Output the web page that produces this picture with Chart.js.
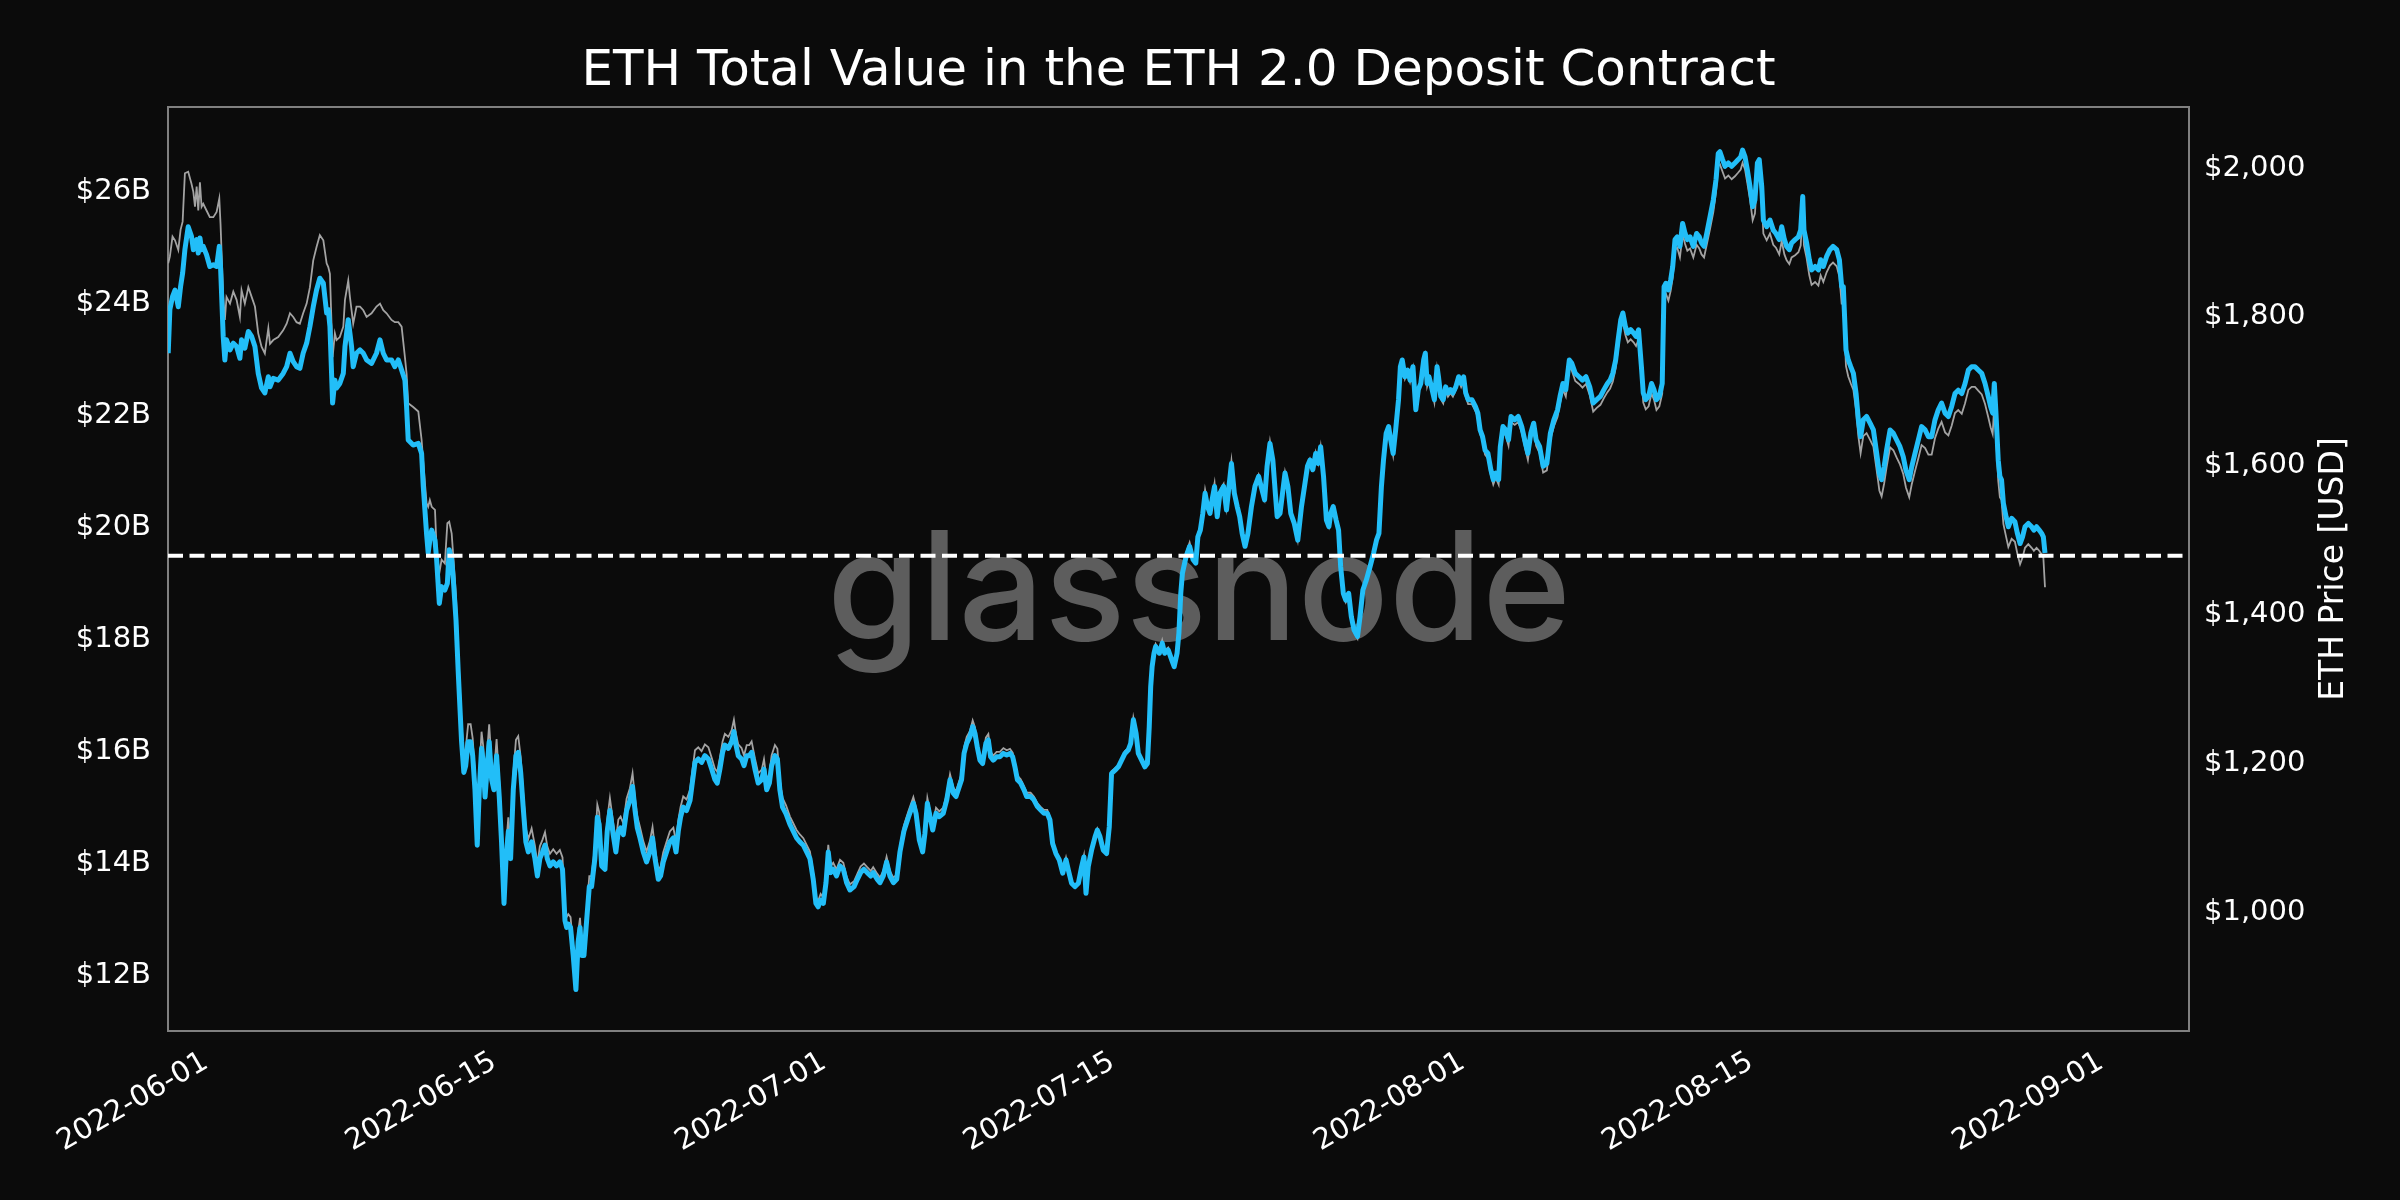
<!DOCTYPE html>
<html>
<head>
<meta charset="utf-8">
<script src="https://cdn.jsdelivr.net/npm/chart.js@4.4.0/dist/chart.umd.min.js"></script>
<style>
  html, body { margin: 0; padding: 0; background: #0b0b0b; }
</style>
</head>
<body>
<canvas id="chart" width="2400" height="1200"></canvas>
<script>
// days since 2022-06-01 (fractional)
const days = [
  -1.83,-1.75,-1.62,-1.50,-1.34,-1.23,-1.13,-1.02,-0.86,-0.70,
  -0.61,-0.53,-0.45,-0.37,-0.29,-0.21,-0.13,0.03,0.19,0.36,
  0.52,0.65,0.71,0.84,0.92,1.00,1.17,1.33,1.49,1.65,
  1.73,1.89,2.06,2.22,2.38,2.54,2.70,2.86,3.03,3.11,
  3.27,3.51,3.75,3.92,4.08,4.24,4.40,4.56,4.72,4.89,
  5.05,5.21,5.37,5.53,5.70,5.86,5.94,6.02,6.15,6.26,
  6.34,6.50,6.67,6.75,6.91,6.99,7.07,7.15,7.31,7.48,
  7.64,7.80,8.04,8.28,8.45,8.61,8.77,9.01,9.17,9.34,
  9.50,9.66,9.74,9.82,10.06,10.31,10.47,10.55,10.71,10.79,
  10.87,10.96,11.12,11.20,11.33,11.44,11.60,11.72,11.81,11.93,
  12.01,12.14,12.25,12.41,12.52,12.61,12.73,12.85,12.95,13.06,
  13.17,13.27,13.38,13.46,13.55,13.66,13.75,13.87,13.98,14.11,
  14.24,14.35,14.47,14.56,14.68,14.79,14.92,15.05,15.16,15.28,
  15.40,15.53,15.65,15.81,15.97,16.09,16.21,16.34,16.46,16.57,
  16.70,16.86,17.02,17.18,17.31,17.43,17.51,17.59,17.70,17.83,
  17.96,18.07,18.16,18.24,18.35,18.48,18.61,18.72,18.88,19.00,
  19.09,19.21,19.37,19.48,19.61,19.77,19.90,20.02,20.13,20.26,
  20.42,20.58,20.71,20.83,20.94,21.07,21.23,21.39,21.55,21.68,
  21.80,21.96,22.07,22.20,22.36,22.52,22.69,22.82,22.93,23.04,
  23.17,23.33,23.50,23.63,23.74,23.90,24.06,24.22,24.39,24.55,
  24.71,24.82,24.95,25.08,25.19,25.36,25.52,25.63,25.73,25.84,
  26.00,26.12,26.25,26.38,26.49,26.65,26.81,26.98,27.09,27.22,
  27.35,27.46,27.62,27.74,27.86,27.99,28.16,28.35,28.51,28.67,
  28.83,29.00,29.16,29.32,29.48,29.61,29.72,29.84,29.97,30.10,
  30.21,30.32,30.45,30.61,30.78,30.94,31.10,31.26,31.46,31.62,
  31.78,31.94,32.10,32.27,32.39,32.59,32.72,32.88,33.04,33.20,
  33.37,33.53,33.69,33.88,34.10,34.34,34.47,34.63,34.79,34.90,
  35.02,35.15,35.28,35.44,35.60,35.79,35.96,36.12,36.28,36.41,
  36.57,36.68,36.80,36.93,37.09,37.22,37.33,37.44,37.57,37.70,
  37.86,37.98,38.09,38.22,38.38,38.54,38.71,38.87,39.03,39.16,
  39.27,39.39,39.55,39.71,39.84,40.03,40.19,40.36,40.52,40.68,
  40.84,40.97,41.10,41.26,41.42,41.59,41.75,41.86,42.02,42.18,
  42.35,42.51,42.62,42.72,42.83,42.99,43.16,43.27,43.40,43.56,
  43.72,43.85,43.96,44.13,44.29,44.45,44.61,44.77,44.89,45.02,
  45.15,45.26,45.42,45.58,45.70,45.79,45.86,45.93,46.02,46.10,
  46.28,46.42,46.54,46.71,46.88,47.00,47.14,47.23,47.32,47.40,
  47.58,47.75,47.92,48.05,48.15,48.27,48.39,48.50,48.62,48.74,
  48.84,48.96,49.09,49.22,49.40,49.54,49.66,49.78,49.92,50.06,
  50.18,50.30,50.44,50.58,50.75,50.92,51.10,51.22,51.39,51.51,
  51.65,51.79,51.91,52.00,52.14,52.26,52.38,52.52,52.66,52.83,
  53.00,53.18,53.35,53.47,53.59,53.73,53.87,53.99,54.11,54.25,
  54.39,54.51,54.60,54.72,54.86,54.98,55.08,55.21,55.33,55.47,
  55.60,55.73,55.90,56.02,56.16,56.33,56.51,56.68,56.82,56.94,
  57.06,57.16,57.29,57.41,57.51,57.63,57.75,57.89,57.98,58.07,
  58.20,58.33,58.45,58.59,58.73,58.85,58.97,59.11,59.19,59.28,
  59.37,59.49,59.63,59.76,59.83,59.94,60.06,60.18,60.29,60.41,
  60.53,60.67,60.81,60.93,61.05,61.15,61.27,61.45,61.62,61.74,
  61.85,61.97,62.09,62.23,62.37,62.49,62.61,62.75,62.83,62.96,
  63.09,63.23,63.35,63.53,63.70,63.87,64.05,64.17,64.31,64.45,
  64.57,64.74,64.91,65.09,65.26,65.43,65.61,65.73,65.87,66.01,
  66.18,66.30,66.47,66.65,66.82,66.99,67.17,67.34,67.51,67.69,
  67.86,68.03,68.16,68.29,68.43,68.55,68.68,68.78,68.90,69.02,
  69.16,69.30,69.42,69.54,69.68,69.77,69.89,70.03,70.17,70.29,
  70.41,70.55,70.69,70.78,70.87,70.99,71.10,71.20,71.31,71.42,
  71.55,71.68,71.80,71.91,72.04,72.20,72.36,72.49,72.60,72.72,
  72.85,73.01,73.17,73.30,73.41,73.49,73.62,73.74,73.90,74.06,
  74.22,74.38,74.50,74.59,74.71,74.82,74.95,75.08,75.19,75.31,
  75.40,75.52,75.60,75.76,75.92,76.08,76.21,76.37,76.49,76.62,
  76.73,76.86,76.97,77.14,77.30,77.41,77.51,77.57,77.70,77.83,
  77.94,78.11,78.27,78.38,78.51,78.67,78.83,78.98,79.16,79.29,
  79.40,79.48,79.61,79.72,79.84,79.97,80.10,80.21,80.32,80.45,
  80.61,80.78,80.94,81.10,81.23,81.34,81.46,81.58,81.75,81.91,
  82.07,82.23,82.39,82.52,82.68,82.80,82.96,83.12,83.28,83.45,
  83.61,83.77,83.93,84.09,84.25,84.42,84.58,84.74,84.90,85.06,
  85.23,85.39,85.55,85.71,85.87,86.03,86.20,86.36,86.52,86.63,
  86.73,86.81,86.89,87.00,87.08,87.16,87.25,87.38,87.49,87.65,
  87.81,87.93,88.06,88.18,88.30,88.46,88.62,88.73,88.86,88.99,
  89.11,89.19,89.27
];

// total value in the deposit contract, billions USD
const tvl = [
  23.11,23.89,24.12,24.24,23.94,24.30,24.54,24.96,25.37,25.20,
  24.96,25.05,25.14,24.90,25.17,24.96,25.02,24.87,24.66,24.69,
  24.66,25.02,24.66,23.41,22.99,23.35,23.17,23.29,23.23,23.02,
  23.35,23.20,23.50,23.41,23.23,22.75,22.49,22.40,22.69,22.51,
  22.66,22.63,22.75,22.87,23.11,22.96,22.87,22.84,23.11,23.29,
  23.59,23.94,24.24,24.45,24.36,23.83,23.89,23.59,22.22,22.63,
  22.49,22.57,22.75,23.23,23.71,23.47,23.23,22.87,23.11,23.17,
  23.11,22.99,22.93,23.11,23.35,23.11,22.99,22.99,22.87,22.99,
  22.81,22.63,22.16,21.56,21.47,21.50,21.32,20.73,19.89,19.54,
  19.77,19.95,19.77,19.42,18.64,18.94,18.88,19.00,19.60,19.42,
  19.06,18.34,17.40,16.17,15.62,15.74,16.17,16.17,15.92,15.31,
  14.32,15.31,16.05,15.80,15.18,15.74,16.17,15.49,15.31,15.92,
  15.18,14.38,13.28,14.02,14.57,14.08,15.31,15.92,15.98,15.62,
  15.00,14.38,14.20,14.38,14.08,13.77,14.08,14.20,14.32,14.08,
  13.95,14.02,13.95,14.02,13.89,12.97,12.85,12.91,12.85,12.35,
  11.74,12.60,12.85,12.35,12.35,12.97,13.58,13.58,14.08,14.82,
  14.69,13.95,13.89,14.57,14.94,14.51,14.20,14.57,14.63,14.51,
  14.94,15.12,15.37,14.94,14.63,14.45,14.20,14.02,14.20,14.45,
  14.08,13.71,13.77,14.02,14.20,14.38,14.45,14.20,14.57,14.82,
  15.00,14.94,15.12,15.49,15.80,15.86,15.80,15.92,15.86,15.68,
  15.49,15.43,15.68,15.98,16.11,16.05,16.17,16.35,16.11,15.92,
  15.86,15.74,15.92,15.92,15.98,15.68,15.43,15.49,15.68,15.31,
  15.43,15.74,15.92,15.86,15.31,15.00,14.88,14.69,14.57,14.45,
  14.38,14.32,14.20,14.08,13.71,13.28,13.22,13.34,13.28,13.65,
  14.20,13.83,13.89,13.77,13.95,13.89,13.65,13.52,13.58,13.71,
  13.83,13.89,13.83,13.77,13.83,13.71,13.65,13.77,14.02,13.77,
  13.65,13.71,14.20,14.57,14.82,15.07,14.89,14.41,14.20,14.53,
  15.07,14.83,14.59,14.89,14.83,14.89,15.13,15.49,15.25,15.19,
  15.37,15.49,15.96,16.14,16.26,16.44,16.32,16.08,15.84,15.78,
  16.14,16.20,15.90,15.84,15.90,15.90,15.96,15.93,15.96,15.90,
  15.72,15.49,15.43,15.31,15.19,15.19,15.13,15.01,14.95,14.89,
  14.89,14.77,14.35,14.17,14.06,13.82,14.06,13.88,13.64,13.58,
  13.64,13.94,14.11,13.46,13.94,14.23,14.47,14.59,14.47,14.23,
  14.17,14.65,15.60,15.66,15.72,15.84,15.96,16.02,16.14,16.56,
  16.32,15.96,15.84,15.72,15.78,16.44,17.15,17.51,17.75,17.87,
  17.75,17.93,17.75,17.81,17.63,17.51,17.75,18.11,18.82,19.18,
  19.48,19.66,19.42,19.36,19.83,19.95,20.25,20.61,20.37,20.25,
  20.49,20.73,20.19,20.61,20.73,20.31,20.73,21.14,20.61,20.37,
  20.19,19.89,19.66,19.89,20.37,20.73,20.91,20.73,20.49,21.09,
  21.50,21.20,20.61,20.19,20.25,20.61,20.97,20.73,20.25,20.07,
  19.77,20.37,20.79,21.09,21.20,21.03,21.32,21.14,21.44,20.91,
  20.13,20.01,20.25,20.37,20.13,19.95,19.30,18.82,18.70,18.82,
  18.40,18.17,18.05,18.40,18.88,19.06,19.30,19.54,19.77,19.89,
  20.73,21.20,21.68,21.80,21.56,21.32,21.74,22.28,22.87,22.99,
  22.69,22.81,22.63,22.87,22.10,22.46,22.57,22.99,23.11,22.57,
  22.69,22.51,22.28,22.87,22.69,22.34,22.28,22.51,22.40,22.46,
  22.40,22.51,22.69,22.57,22.69,22.40,22.28,22.28,22.16,22.04,
  21.74,21.62,21.38,21.32,21.03,20.85,20.97,20.85,21.44,21.80,
  21.74,21.56,21.98,21.92,21.98,21.80,21.50,21.32,21.68,21.86,
  21.56,21.44,21.09,21.14,21.68,21.92,22.10,22.34,22.57,22.46,
  22.99,22.93,22.75,22.69,22.63,22.69,22.51,22.22,22.28,22.34,
  22.46,22.57,22.63,22.75,22.99,23.35,23.71,23.83,23.59,23.47,
  23.53,23.47,23.41,23.53,22.87,22.40,22.28,22.34,22.57,22.46,
  22.28,22.34,22.57,24.30,24.36,24.24,24.42,24.66,25.14,25.19,
  25.02,25.43,25.25,25.14,25.19,25.02,25.25,25.19,25.08,25.02,
  25.25,25.55,25.85,26.21,26.68,26.71,26.57,26.45,26.51,26.45,
  26.51,26.57,26.62,26.74,26.62,26.39,26.09,25.73,25.85,26.51,
  26.57,26.09,25.49,25.37,25.49,25.31,25.25,25.14,25.37,25.14,
  25.02,24.96,25.08,25.14,25.19,25.31,25.91,25.31,25.08,24.78,
  24.60,24.66,24.60,24.78,24.66,24.84,24.96,25.02,24.96,24.78,
  24.30,24.30,23.17,22.99,22.87,22.75,22.39,21.92,21.62,21.92,
  21.98,21.86,21.74,21.32,20.96,20.85,21.08,21.38,21.74,21.68,
  21.56,21.44,21.26,21.02,20.85,21.08,21.32,21.56,21.80,21.74,
  21.62,21.62,21.92,22.10,22.22,22.04,21.98,22.16,22.39,22.45,
  22.39,22.57,22.81,22.87,22.87,22.81,22.75,22.57,22.33,22.16,
  22.04,22.57,22.04,21.20,20.91,20.85,20.43,20.19,20.01,20.16,
  20.10,19.89,19.71,19.83,20.01,20.07,20.01,19.95,20.01,19.95,
  19.89,19.83,19.54
];

// ETH price, USD
const price = [
  1872,1881,1908,1903,1890,1917,1928,1993,1995,1979,
  1968,1948,1975,1943,1981,1948,1952,1943,1934,1934,
  1941,1959,1925,1827,1796,1827,1818,1834,1823,1800,
  1836,1818,1840,1827,1814,1778,1760,1751,1785,1764,
  1769,1773,1782,1791,1805,1800,1793,1791,1805,1818,
  1840,1876,1894,1910,1903,1872,1867,1858,1746,1778,
  1769,1773,1787,1823,1849,1827,1809,1791,1814,1814,
  1809,1800,1805,1814,1818,1809,1805,1796,1793,1793,
  1787,1746,1724,1684,1679,1673,1635,1605,1550,1545,
  1554,1545,1541,1487,1456,1474,1469,1523,1525,1509,
  1478,1424,1349,1253,1211,1220,1253,1253,1234,1186,
  1109,1186,1243,1224,1176,1219,1253,1200,1186,1233,
  1176,1114,1028,1086,1128,1090,1186,1232,1237,1209,
  1161,1113,1099,1113,1090,1065,1089,1098,1108,1089,
  1079,1085,1079,1084,1074,1003,994,998,994,955,
  908,974,993,954,954,1002,1049,1049,1088,1145,
  1135,1078,1073,1125,1154,1121,1097,1125,1129,1120,
  1153,1167,1187,1153,1129,1115,1096,1082,1096,1115,
  1086,1058,1062,1081,1095,1109,1114,1095,1124,1142,
  1156,1152,1165,1194,1218,1222,1217,1226,1222,1208,
  1193,1189,1208,1230,1240,1236,1245,1259,1240,1226,
  1221,1211,1225,1225,1230,1207,1187,1192,1206,1178,
  1187,1211,1225,1220,1178,1154,1144,1129,1120,1111,
  1105,1100,1091,1082,1053,1020,1016,1025,1020,1048,
  1091,1062,1067,1058,1071,1067,1048,1038,1042,1052,
  1062,1066,1061,1056,1061,1052,1047,1056,1075,1056,
  1047,1051,1089,1117,1136,1155,1141,1104,1088,1113,
  1154,1136,1118,1141,1136,1141,1159,1186,1168,1163,
  1177,1186,1222,1236,1244,1258,1249,1230,1212,1207,
  1235,1240,1216,1211,1216,1216,1221,1218,1220,1215,
  1202,1184,1179,1170,1161,1161,1156,1147,1142,1138,
  1138,1128,1096,1082,1074,1055,1074,1060,1041,1036,
  1041,1064,1077,1027,1064,1086,1104,1113,1104,1085,
  1081,1117,1190,1194,1198,1207,1217,1221,1230,1262,
  1244,1216,1207,1198,1202,1253,1307,1334,1352,1361,
  1352,1366,1352,1356,1343,1333,1351,1379,1433,1460,
  1483,1497,1478,1473,1509,1518,1541,1568,1550,1541,
  1559,1577,1535,1567,1576,1544,1576,1607,1567,1548,
  1534,1512,1494,1512,1548,1575,1588,1575,1556,1602,
  1633,1610,1566,1533,1537,1565,1592,1574,1537,1524,
  1500,1546,1578,1600,1609,1596,1618,1604,1626,1586,
  1527,1518,1536,1545,1527,1513,1463,1427,1417,1427,
  1395,1377,1368,1394,1430,1444,1462,1480,1498,1507,
  1570,1605,1642,1651,1633,1614,1646,1687,1732,1740,
  1717,1726,1713,1731,1673,1700,1708,1739,1748,1707,
  1716,1703,1685,1730,1716,1690,1684,1702,1693,1698,
  1693,1702,1715,1706,1714,1693,1683,1683,1674,1665,
  1643,1634,1615,1610,1588,1575,1584,1575,1619,1646,
  1641,1627,1659,1655,1659,1645,1622,1608,1636,1649,
  1627,1617,1591,1594,1635,1653,1666,1684,1702,1693,
  1733,1728,1714,1710,1705,1710,1695,1673,1678,1682,
  1691,1699,1704,1713,1731,1758,1785,1794,1776,1766,
  1770,1766,1761,1770,1721,1685,1676,1680,1697,1689,
  1675,1680,1697,1827,1831,1822,1835,1853,1890,1893,
  1880,1911,1898,1889,1892,1880,1897,1892,1884,1880,
  1897,1918,1941,1968,2003,2005,1995,1986,1990,1985,
  1989,1994,1998,2007,1998,1980,1958,1930,1939,1988,
  1993,1957,1912,1903,1912,1897,1893,1884,1902,1884,
  1876,1871,1880,1883,1887,1896,1941,1896,1879,1856,
  1843,1847,1842,1856,1847,1860,1869,1873,1868,1854,
  1818,1818,1734,1720,1711,1702,1675,1640,1617,1640,
  1644,1635,1626,1594,1567,1559,1576,1598,1625,1621,
  1611,1602,1589,1571,1558,1575,1593,1610,1628,1624,
  1615,1615,1637,1650,1659,1645,1641,1654,1671,1675,
  1670,1684,1702,1706,1706,1701,1696,1683,1665,1652,
  1643,1683,1643,1580,1558,1554,1522,1505,1491,1502,
  1498,1482,1468,1477,1490,1495,1490,1486,1490,1486,
  1481,1477,1437
];

const xTickDays = [0, 14, 30, 44, 61, 75, 92];
const xTickLabels = ['2022-06-01', '2022-06-15', '2022-07-01', '2022-07-15', '2022-08-01', '2022-08-15', '2022-09-01'];
const tvlTicks = [12, 14, 16, 18, 20, 22, 24, 26];
const priceTicks = [1000, 1200, 1400, 1600, 1800, 2000];
const refLevel = 19.49;

const X_MIN = -1.84, X_MAX = 96.26;
const FONT = '"DejaVu Sans", sans-serif';

const pagePlugin = {
  id: 'page',
  beforeDraw(chart) {
    const c = chart.ctx;
    c.save();
    c.fillStyle = '#0b0b0b';
    c.fillRect(0, 0, chart.width, chart.height);
    c.restore();
  },
  beforeDatasetsDraw(chart) {
    const c = chart.ctx, a = chart.chartArea;
    c.save();
    // watermark
    c.font = '500 160px Inter';
    const w = c.measureText('glassnode').width;
    c.font = '500 ' + Math.round(160 * 746 / w) + 'px Inter';
    c.fillStyle = '#5d5d5d';
    c.textAlign = 'center';
    c.textBaseline = 'alphabetic';
    c.fillText('glassnode', 1199, 640);
    // frame
    c.strokeStyle = '#808080';
    c.lineWidth = 2;
    c.strokeRect(a.left, a.top, a.right - a.left, a.bottom - a.top);
    c.restore();
  },
  afterDraw(chart) {
    const c = chart.ctx, a = chart.chartArea;
    c.save();
    c.fillStyle = '#ffffff';
    c.font = '50px ' + FONT;
    c.textAlign = 'center';
    c.textBaseline = 'alphabetic';
    c.fillText('ETH Total Value in the ETH 2.0 Deposit Contract', (a.left + a.right) / 2, 85);
    c.translate(2334, (a.top + a.bottom) / 2);
    c.rotate(-Math.PI / 2);
    c.font = '33px ' + FONT;
    c.textBaseline = 'middle';
    c.fillText('ETH Price [USD]', 0, 0);
    c.restore();
  }
};

new Chart(document.getElementById('chart'), {
  type: 'line',
  data: {
    datasets: [
      {
        data: days.map((d, i) => ({ x: d, y: tvl[i] })),
        yAxisID: 'y',
        borderColor: '#22bef8',
        borderWidth: 5,
        borderJoinStyle: 'round',
        order: 1
      },
      {
        data: days.map((d, i) => ({ x: d, y: price[i] })),
        yAxisID: 'y1',
        borderColor: '#a3a3a3',
        borderWidth: 1.8,
        order: 2
      },
      {
        data: [{ x: X_MIN, y: refLevel }, { x: X_MAX, y: refLevel }],
        yAxisID: 'y',
        borderColor: '#ffffff',
        borderWidth: 4,
        borderDash: [15, 6.5],
        order: 0
      }
    ]
  },
  options: {
    responsive: false,
    animation: false,
    devicePixelRatio: 1,
    layout: { padding: { top: 107, left: 0, right: 0, bottom: 0 } },
    elements: { point: { radius: 0 }, line: { tension: 0 } },
    plugins: { legend: { display: false }, tooltip: { enabled: false }, title: { display: false } },
    scales: {
      x: {
        type: 'linear',
        min: X_MIN,
        max: X_MAX,
        grid: { display: false, drawTicks: false },
        border: { display: false },
        afterBuildTicks: s => { s.ticks = xTickDays.map(v => ({ value: v })); },
        afterFit: s => { s.height = 169; },
        ticks: {
          color: '#ffffff',
          font: { family: FONT, size: 29 },
          minRotation: 30,
          maxRotation: 30,
          autoSkip: false,
          padding: 14,
          callback: v => xTickLabels[xTickDays.indexOf(v)]
        }
      },
      y: {
        position: 'left',
        min: 11.0,
        max: 27.51,
        grid: { display: false, drawTicks: false },
        border: { display: false },
        afterBuildTicks: s => { s.ticks = tvlTicks.map(v => ({ value: v })); },
        afterFit: s => { s.width = 168; },
        ticks: {
          color: '#ffffff',
          font: { family: FONT, size: 29 },
          padding: 17,
          callback: v => '$' + v + 'B'
        }
      },
      y1: {
        position: 'right',
        min: 841,
        max: 2082,
        grid: { display: false, drawTicks: false },
        border: { display: false },
        afterBuildTicks: s => { s.ticks = priceTicks.map(v => ({ value: v })); },
        afterFit: s => { s.width = 211; },
        ticks: {
          color: '#ffffff',
          font: { family: FONT, size: 29 },
          padding: 15,
          callback: v => '$' + v.toLocaleString('en-US')
        }
      }
    }
  },
  plugins: [pagePlugin]
});
</script>
</body>
</html>
